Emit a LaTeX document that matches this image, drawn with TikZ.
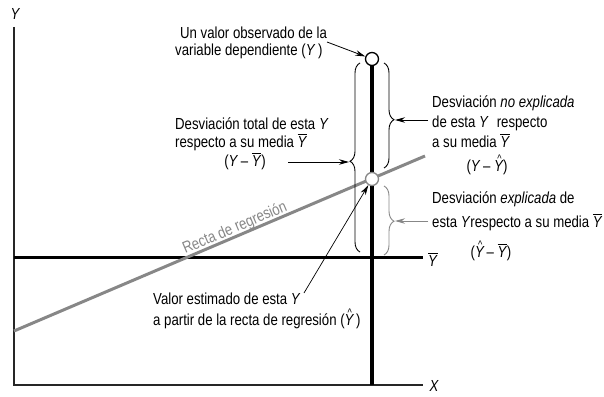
\documentclass[tikz,border=0pt]{standalone}
\usepackage{fontspec}
\setmainfont[FakeStretch=0.825]{Liberation Sans}
\usetikzlibrary{arrows.meta,decorations.pathreplacing}
\newcommand{\Yb}{\leavevmode\vbox{\hrule height 0.8pt\kern1.6pt\hbox{\itshape Y\kern0.5pt}}}
\newcommand{\Yh}{\leavevmode\vbox{\offinterlineskip\halign{\hfil##\hfil\cr{\kern1.5pt\fontsize{11}{11}\selectfont\textasciicircum}\cr\noalign{\kern-2.5pt}\itshape Y\cr}}}
\definecolor{rgray}{RGB}{135,135,135}
\tikzset{
  lbl/.style={inner sep=0pt, font=\fontsize{16}{19}\selectfont},
  axisl/.style={line width=1.2pt, black!85},
  meanl/.style={line width=3pt, black},
  vertl/.style={line width=3.2pt, black},
  regl/.style={line width=3pt, rgray},
  circ/.style={circle, fill=white, minimum size=13pt, inner sep=0pt, line width=1.3pt},
  arr/.style={-{Stealth[length=10pt,width=5.5pt]}, line width=0.8pt},
  brc/.style={decorate, decoration={brace, amplitude=10pt}, line width=0.9pt}
}
\begin{document}
\begin{tikzpicture}[x=1pt,y=-1pt]
\useasboundingbox (0,0) rectangle (604,396);
% axes
\coordinate (ytop) at (14,27);
\coordinate (O) at (14,385);
\coordinate (xend) at (423,385);
\draw[axisl] (ytop) -- (O) -- (xend);
\node[lbl] (ylab) at (15,14) {\itshape Y};
\node[lbl] (xlab) at (434,386) {\itshape X};
% mean line
\coordinate (m0) at (14,257);
\coordinate (m1) at (423,257);
\draw[meanl] (m0) -- (m1);
\node[lbl, anchor=base west] (ybarlab) at (428,266) {\Yb};
% regression line
\coordinate (r0) at (14,331);
\coordinate (r1) at (425,156);
\draw[regl] (r0) -- (r1);
\node[lbl, anchor=base, rotate=23.07, text=rgray] (rr) at (236.6,232.1) {Recta de regresión};
% vertical line and points
\coordinate (vt) at (372,59);
\coordinate (vb) at (372,385);
\draw[vertl] (vt) -- (vb);
\node[circ, draw=black] (obs) at (372,59) {};
\node[circ, draw=rgray] (est) at (372,179) {};
% braces
\coordinate (bl0) at (360,252);
\coordinate (bl1) at (360,63);
\draw[brc, decoration={aspect=0.48}] (bl0) -- (bl1);
\coordinate (tipL) at (349,162);
\coordinate (bu0) at (384,63);
\coordinate (bu1) at (384,168);
\draw[brc, decoration={aspect=0.54}] (bu0) -- (bu1);
\coordinate (tipU) at (395,120);
\coordinate (bd0) at (384,186);
\coordinate (bd1) at (384,255);
\draw[brc, rgray, decoration={aspect=0.51}] (bd0) -- (bd1);
\coordinate (tipD) at (395,221);
% texts
\node[lbl, anchor=base west] (ob1) at (180,38) {Un valor observado de la};
\node[lbl, anchor=base west] (ob2) at (175,56) {variable dependiente (\textit{Y}\,)};
\node[lbl, anchor=base west] (tt1) at (175,129) {Desviación total de esta \textit{Y}};
\node[lbl, anchor=base west] (tt2) at (175,147) {respecto a su media \Yb};
\node[lbl, anchor=base] (tt3) at (245,166) {(\textit{Y}\,– \Yb)};
\node[lbl, anchor=base west] (nu1) at (432,107) {Desviación \textit{no explicada}};
\node[lbl, anchor=base west] (nu2) at (432,127) {de esta \textit{Y}\enspace respecto};
\node[lbl, anchor=base west] (nu3) at (432,147) {a su media \Yb};
\node[lbl, anchor=base] (nu4) at (487,171) {(\textit{Y}\,– \Yh)};
\node[lbl, anchor=base west] (ex1) at (432,203) {Desviación \textit{explicada} de};
\node[lbl, anchor=base west] (ex2) at (432,227) {esta \textit{Y}respecto a su media \Yb};
\node[lbl, anchor=base] (ex3) at (491,257) {(\Yh\,– \Yb)};
\node[lbl, anchor=base west] (es1) at (153,304) {Valor estimado de esta \textit{Y}};
\node[lbl, anchor=base west] (es2) at (153,325) {a partir de la recta de regresión (\Yh\,)};
% arrows
\coordinate (aobs) at (327,42);
\draw[arr] (aobs) -- (obs);
\coordinate (aest) at (304,293);
\draw[arr, line width=0.7pt] (aest) -- (est);
\coordinate (atot) at (288,162);
\draw[arr] (atot) -- (tipL);
\coordinate (anu) at (428,120);
\draw[arr] (anu) -- (tipU);
\coordinate (aex) at (428,221);
\draw[arr, draw=rgray, fill=rgray] (aex) -- (tipD);
\end{tikzpicture}
\end{document}
